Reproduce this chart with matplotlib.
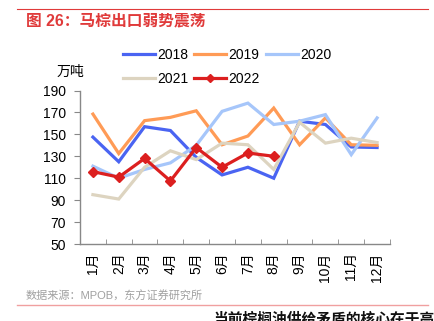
import numpy as np
from matplotlib import pyplot as plt
from matplotlib.lines import Line2D

plt.rcParams['font.family'] = ['Liberation Sans', 'Noto Sans CJK SC', 'DejaVu Sans']

#--- Data ---------------------------------------------------------------------#
months = ['1月', '2月', '3月', '4月', '5月', '6月', '7月', '8月', '9月', '10月', '11月', '12月']

exp_2018 = [147.5, 125, 157, 153.5, 129, 113, 120, 110, 162, 159, 138.5, 138]
exp_2019 = [168.5, 132.5, 162.5, 165.5, 171.5, 140.5, 148.5, 174, 140.5, 165, 140.5, 140]
exp_2020 = [121, 110, 118, 124, 140, 171, 178.5, 159, 162, 168, 131.5, 165]
exp_2021 = [95, 91, 120, 135, 127, 142, 140.5, 118, 161, 142, 146.5, 142.5]
exp_2022 = [116, 111, 128, 107.5, 138, 120, 133, 130]

#--- Figure -------------------------------------------------------------------#
fig = plt.figure(figsize=(4.35, 3.21), dpi=100)
ax = fig.add_axes([80 / 435, 1 - 244 / 321, 310 / 435, 153.5 / 321])

x = np.arange(len(months))
lw = 2.3

l18, = ax.plot(x, exp_2018, color='#4a64f2', linewidth=lw, label='2018', solid_joinstyle='miter')
l19, = ax.plot(x, exp_2019, color='#ff9b56', linewidth=lw, label='2019', solid_joinstyle='miter')
l20, = ax.plot(x, exp_2020, color='#a6c6fa', linewidth=lw, label='2020', solid_joinstyle='miter')
l21, = ax.plot(x, exp_2021, color='#ddd4c0', linewidth=lw, label='2021', solid_joinstyle='miter')
l22, = ax.plot(x[:len(exp_2022)], exp_2022, color='#dc1f1f', linewidth=lw, label='2022',
               marker='D', ms=5.5, mfc='#dc1f1f', mec='#dc1f1f', solid_joinstyle='miter')

ax.set_xlim(-0.5, 11.5)
ax.set_ylim(50, 190)
ax.set_yticks(np.arange(50, 191, 20))
ax.set_xticks(x)
ax.set_xticklabels(months, rotation=90)
ax.set_xticks(np.arange(0.5, 12, 1), minor=True)

ax.tick_params(axis='x', which='major', length=0, pad=6, labelsize=10)
ax.tick_params(axis='x', which='minor', length=3.5, direction='in', color='#888888')
ax.tick_params(axis='y', length=4, direction='out', color='#888888', labelsize=10, pad=6)

for side in ['top', 'right']:
    ax.spines[side].set_visible(False)
for side in ['left', 'bottom']:
    ax.spines[side].set_color('#888888')
    ax.spines[side].set_linewidth(1.0)

# row-wise legend: 2018 2019 2020 / 2021 2022
handles = [l18, l21, l19, l22, l20]
ax.legend(handles, [h.get_label() for h in handles],
          loc='upper left', bbox_to_anchor=(123 / 435, 1 - 48 / 321), bbox_transform=fig.transFigure,
          ncol=3, frameon=False, fontsize=10, handlelength=2.3, handletextpad=0.15,
          columnspacing=0.45, labelspacing=0.72, borderaxespad=0, borderpad=0, markerscale=0.7)

fig.text(70 / 435, 1 - 72 / 321, '万吨', ha='center', va='center', fontsize=10)

#--- Header / footer ----------------------------------------------------------#
fig.add_artist(Line2D([17 / 435, 428 / 435], [1 - 9 / 321, 1 - 9 / 321], color='#e03a3a', linewidth=0.8))
fig.text(26 / 435, 1 - 21 / 321, '图 26：马棕出口弱势震荡', color='#e03a3a',
         fontsize=11.3, fontweight='bold', va='center', ha='left')

fig.text(26 / 435, 1 - 296 / 321, '数据来源：MPOB，东方证券研究所', color='#a0a0a0',
         fontsize=8, va='center', ha='left')
fig.add_artist(Line2D([17 / 435, 428 / 435], [1 - 305 / 321, 1 - 305 / 321], color='#f0a0a0', linewidth=1.0))
fig.text(213 / 435, 1 - 320 / 321, '当前棕榈油供给矛盾的核心在于高', color='#111111',
         fontsize=10.6, fontweight='bold', va='center', ha='left')

fig.savefig('out.png', dpi=100)
